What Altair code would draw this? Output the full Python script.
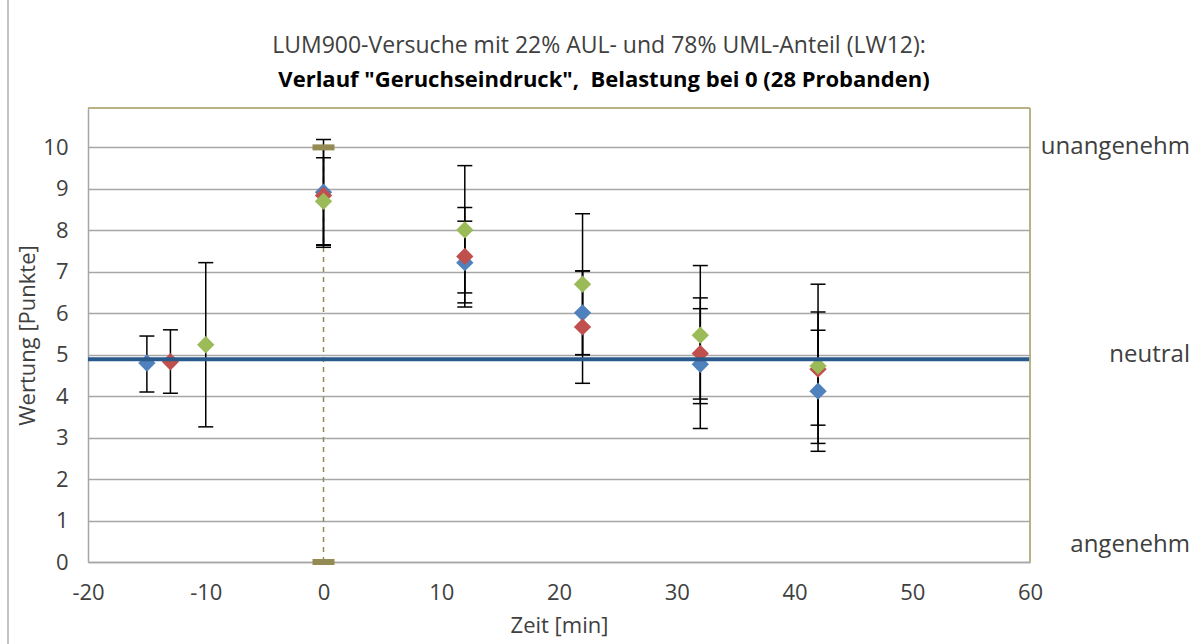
import altair as alt
import pandas as pd

# ---- data ----
series_names = ["Reihe 1", "Reihe 2", "Reihe 3"]
series_colors = ["#4F81BD", "#C0504D", "#9BBB59"]

blue_x = [-15, 0, 12, 22, 32, 42]
blue_y = [4.80, 8.92, 7.22, 6.01, 4.77, 4.12]
blue_lo = [4.10, 7.65, 6.25, 5.00, 3.22, 2.67]
blue_hi = [5.45, 10.19, 8.22, 7.02, 6.37, 5.59]

red_x = [-13, 0, 12, 22, 32, 42]
red_y = [4.83, 8.84, 7.37, 5.67, 5.03, 4.65]
red_lo = [4.07, 7.64, 6.15, 4.31, 3.93, 3.30]
red_hi = [5.60, 10.04, 8.55, 7.02, 6.11, 6.03]

green_x = [-10, 0, 12, 22, 32, 42]
green_y = [5.24, 8.70, 8.01, 6.70, 5.47, 4.73]
green_lo = [3.26, 7.59, 6.49, 5.00, 3.82, 2.86]
green_hi = [7.22, 9.75, 9.56, 8.40, 7.15, 6.70]

neutral_x = [-20, 60]
neutral_y = [4.89, 4.89]

belastung_x = [0, 0]
belastung_y = [0, 10]

side_labels = ["unangenehm", "neutral", "angenehm"]
side_label_y = [10, 4.99, 0.4]

x_ticks = [-20, -10, 0, 10, 20, 30, 40, 50, 60]
y_ticks = [0, 1, 2, 3, 4, 5, 6, 7, 8, 9, 10]

title_line1 = "LUM900-Versuche mit 22% AUL- und 78% UML-Anteil (LW12):"
title_line2 = 'Verlauf "Geruchseindruck",\u00a0 Belastung bei 0 (28 Probanden)'

# ---- tables ----
rows = []
for name, xs, ys, los, his in [
    (series_names[0], blue_x, blue_y, blue_lo, blue_hi),
    (series_names[1], red_x, red_y, red_lo, red_hi),
    (series_names[2], green_x, green_y, green_lo, green_hi),
]:
    for x, y, lo, hi in zip(xs, ys, los, his):
        rows.append({"series": name, "x": x, "y": y, "lo": lo, "hi": hi})
df = pd.DataFrame(rows)
neutral_df = pd.DataFrame({"x": neutral_x, "y": neutral_y})
bel_df = pd.DataFrame({"x": belastung_x, "y": belastung_y})
side_df = pd.DataFrame({"t": side_labels, "y": side_label_y})
title_df = pd.DataFrame({"t": [title_line1]})
subtitle_df = pd.DataFrame({"t": [title_line2]})

FONT = "Open Sans"
W, H = 942, 454
TXT = "#404040"

x_scale = alt.Scale(domain=[-20, 60], nice=False, zero=False)
y_scale = alt.Scale(domain=[0, 10.95], nice=False, zero=False)
color_scale = alt.Scale(domain=series_names, range=series_colors)

x_axis = alt.Axis(values=x_ticks, title="Zeit [min]", grid=False, ticks=False,
                  labelPadding=20, titlePadding=12, domainColor="#A6A6A6",
                  domainWidth=1.5, labelFlush=False,
                  labelExpr="'' + datum.value")
y_axis = alt.Axis(values=y_ticks, title="Wertung [Punkte]", grid=True, ticks=False,
                  gridColor="#A6A6A6", gridWidth=1.5, labelPadding=20,
                  titlePadding=3, domainColor="#A6A6A6", domainWidth=1.5)

X = alt.X("x:Q", scale=x_scale, axis=x_axis)
Y = alt.Y("y:Q", scale=y_scale, axis=y_axis)

border = alt.Chart(neutral_df).mark_rule(color="#BFBFBF", strokeWidth=1.5).encode(
    x=alt.value(-80), y=alt.value(-108), y2=alt.value(536))

frame_top = alt.Chart(neutral_df).mark_rule(color="#B5AD7C", strokeWidth=1.5).encode(
    x=alt.value(0), x2=alt.value(W), y=alt.value(0))
frame_right = alt.Chart(neutral_df).mark_rule(color="#B5AD7C", strokeWidth=1.5).encode(
    x=alt.value(W), y=alt.value(0), y2=alt.value(H))

bel_line = alt.Chart(bel_df).mark_line(
    color="#948A54", strokeWidth=1.5, strokeDash=[5, 5]
).encode(x=X, y=Y)

err = alt.Chart(df).mark_rule(color="black", strokeWidth=1.5).encode(
    x=X, y=alt.Y("lo:Q", scale=y_scale, axis=y_axis), y2="hi:Q")
cap_lo = alt.Chart(df).mark_tick(color="black", orient="horizontal", size=15,
                                 thickness=1.5, opacity=1).encode(
    x=X, y=alt.Y("lo:Q", scale=y_scale, axis=y_axis))
cap_hi = alt.Chart(df).mark_tick(color="black", orient="horizontal", size=15,
                                 thickness=1.5, opacity=1).encode(
    x=X, y=alt.Y("hi:Q", scale=y_scale, axis=y_axis))

pts = alt.Chart(df).mark_point(shape="diamond", filled=True, size=300, opacity=1).encode(
    x=X, y=Y, color=alt.Color("series:N", scale=color_scale, legend=None))

neutral = alt.Chart(neutral_df).mark_line(color="#2A5A8C", strokeWidth=4).encode(x=X, y=Y)

bel_ticks = alt.Chart(bel_df).mark_tick(color="#948A54", orient="horizontal", size=22,
                                        thickness=6, opacity=1).encode(x=X, y=Y)

side = alt.Chart(side_df).mark_text(align="right", baseline="middle", fontSize=24,
                                    font=FONT, color=TXT).encode(
    x=alt.value(1102), y=alt.Y("y:Q", scale=y_scale, axis=y_axis), text="t:N")

title1 = alt.Chart(title_df).mark_text(align="center", baseline="middle", fontSize=23,
                                       font=FONT, color=TXT).encode(
    x=alt.value(511), y=alt.value(-62), text="t:N")
title2 = alt.Chart(subtitle_df).mark_text(align="center", baseline="middle", fontSize=22,
                                          font=FONT, fontWeight="bold", color="black").encode(
    x=alt.value(516), y=alt.value(-28), text="t:N")

chart = alt.layer(
    border, bel_line, err, cap_lo, cap_hi, pts, neutral, bel_ticks,
    frame_top, frame_right, side, title1, title2
).properties(
    width=W, height=H,
    autosize=alt.AutoSizeParams(type="none"),
    padding={"left": 88, "top": 108, "right": 170, "bottom": 82},
).configure_view(stroke=None).configure_axis(
    labelFont=FONT, labelFontSize=22, labelColor=TXT,
    titleFont=FONT, titleFontSize=22, titleColor=TXT, titleFontWeight="normal",
)

chart.save("out.html", embed_options={"renderer": "svg", "actions": False})
